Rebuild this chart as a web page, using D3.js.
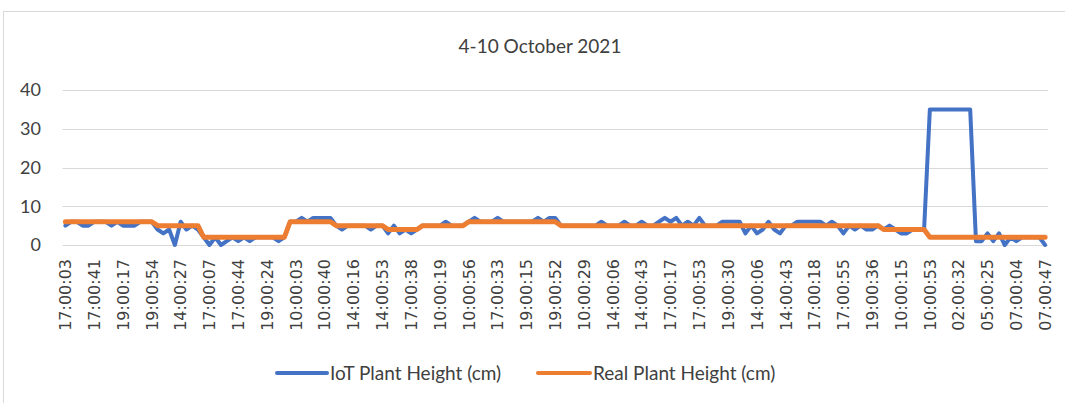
<!DOCTYPE html>
<html>
<head>
<meta charset="utf-8">
<script src="https://cdn.jsdelivr.net/npm/d3@7"></script>
<style>
  body { margin: 0; background: #fff; }
  svg { display: block; font-family: Lato, "Open Sans", sans-serif; }
</style>
</head>
<body>
<div id="container"></div>
<script>
// Chart data: one reading per category, tick label shown on every 5th category
const titleText = "4-10 October 2021";
const seriesNames = ["IoT Plant Height (cm)", "Real Plant Height (cm)"];
const tickLabels = [
  "17:00:03", "17:00:41", "19:00:17", "19:00:54", "14:00:27", "17:00:07", "17:00:44",
  "19:00:24", "10:00:03", "10:00:40", "14:00:16", "14:00:53", "17:00:38", "10:00:19",
  "10:00:56", "17:00:33", "19:00:15", "19:00:52", "10:00:29", "14:00:06", "14:00:43",
  "17:00:17", "17:00:53", "19:00:30", "14:00:06", "14:00:43", "17:00:18", "17:00:55",
  "19:00:36", "10:00:15", "10:00:53", "02:00:32", "05:00:25", "07:00:04", "07:00:47"
];
const labelEvery = 5;
const yTicks = [0, 10, 20, 30, 40];

const iotHeight = [
  5, 6, 6, 5, 5, 6, 6, 6, 5, 6, 5, 5, 5, 6, 6, 6,
  4, 3, 4, 0, 6, 4, 5, 4,
  2, 0, 2, 0, 1, 2, 1, 2, 1, 2, 2, 2, 2, 1, 2,
  6, 6, 7, 6, 7, 7, 7, 7,
  5, 4, 5, 5, 5, 5, 4, 5, 5,
  3, 5, 3, 4, 3, 4,
  5, 5, 5, 5, 6, 5, 5, 5,
  6, 7, 6, 6, 6, 7, 6, 6, 6, 6, 6, 6, 7, 6, 7, 7,
  5, 5, 5, 5, 5, 5, 5, 6, 5, 5, 5, 6, 5, 5, 6, 5, 5, 6, 7, 6, 7, 5, 6, 5, 7,
  5, 5, 5, 6, 6, 6, 6, 3, 5, 3, 4, 6, 4, 3, 5, 5, 6, 6, 6, 6, 6, 5, 6, 5, 3,
  5, 4, 5, 4, 4, 5,
  4, 5, 4, 3, 3, 4, 4, 4,
  35, 35, 35, 35, 35, 35, 35, 35,
  1, 1, 3, 1, 3, 0, 2, 1, 2, 2, 2, 2, 0
];

const realHeight = [
  6, 6, 6, 6, 6, 6, 6, 6, 6, 6, 6, 6, 6, 6, 6, 6,
  5, 5, 5, 5, 5, 5, 5, 5,
  2, 2, 2, 2, 2, 2, 2, 2, 2, 2, 2, 2, 2, 2, 2,
  6, 6, 6, 6, 6, 6, 6, 6,
  5, 5, 5, 5, 5, 5, 5, 5, 5,
  4, 4, 4, 4, 4, 4,
  5, 5, 5, 5, 5, 5, 5, 5,
  6, 6, 6, 6, 6, 6, 6, 6, 6, 6, 6, 6, 6, 6, 6, 6,
  5, 5, 5, 5, 5, 5, 5, 5, 5, 5, 5, 5, 5, 5, 5, 5, 5, 5, 5, 5, 5, 5, 5, 5, 5,
  5, 5, 5, 5, 5, 5, 5, 5, 5, 5, 5, 5, 5, 5, 5, 5, 5, 5, 5, 5, 5, 5, 5, 5, 5,
  5, 5, 5, 5, 5, 5,
  4, 4, 4, 4, 4, 4, 4, 4,
  2, 2, 2, 2, 2, 2, 2, 2, 2, 2, 2, 2, 2, 2, 2, 2, 2, 2, 2, 2, 2
];

const colors = ["#4472C4", "#ED7D31"];

const W = 1065, H = 403;
const plot = { left: 62.5, right: 1048, top: 90, bottom: 245 };

const svg = d3.select("#container").append("svg")
  .attr("width", W)
  .attr("height", H);

// chart frame
svg.append("rect")
  .attr("x", 3.5).attr("y", 11.5)
  .attr("width", W + 10).attr("height", H + 10)
  .attr("fill", "#fff")
  .attr("stroke", "#D9D9D9");

const idx = d3.range(realHeight.length);
const x = d3.scalePoint()
  .domain(idx)
  .range([plot.left, plot.right])
  .padding(0.5);

const y = d3.scaleLinear()
  .domain([0, 40])
  .range([plot.bottom, plot.top]);

// gridlines
svg.append("g")
  .selectAll("line")
  .data(yTicks)
  .enter().append("line")
    .attr("x1", plot.left).attr("x2", plot.right)
    .attr("y1", d => Math.round(y(d)) + 0.5)
    .attr("y2", d => Math.round(y(d)) + 0.5)
    .attr("stroke", "#D9D9D9")
    .attr("stroke-width", 1);

// y labels
svg.append("g")
  .selectAll("text")
  .data(yTicks)
  .enter().append("text")
    .attr("x", 41)
    .attr("y", d => y(d))
    .attr("dy", "0.36em")
    .attr("text-anchor", "end")
    .attr("font-size", 18)
    .attr("fill", "#404040")
    .text(d => d);

// x labels (every 5th category)
svg.append("g")
  .selectAll("text")
  .data(tickLabels)
  .enter().append("text")
    .attr("transform", (d, i) => `translate(${x(i * labelEvery)},259) rotate(-90)`)
    .attr("dy", "0.36em")
    .attr("text-anchor", "end")
    .attr("font-family", "'DejaVu Sans', sans-serif")
    .attr("font-size", 16)
    .attr("fill", "#404040")
    .text(d => d);

// series lines
const line = d3.line()
  .x((d, i) => x(i))
  .y(d => y(d));

[iotHeight, realHeight].forEach((vals, k) => {
  svg.append("path")
    .datum(vals)
    .attr("fill", "none")
    .attr("stroke", colors[k])
    .attr("stroke-width", k === 0 ? 4 : 5)
    .attr("stroke-linejoin", "round")
    .attr("stroke-linecap", "round")
    .attr("d", line);
});

// title
svg.append("text")
  .attr("x", 540)
  .attr("y", 46)
  .attr("dy", "0.35em")
  .attr("text-anchor", "middle")
  .attr("font-size", 19)
  .attr("fill", "#404040")
  .text(titleText);

// legend
const legendItems = [
  { x1: 277, x2: 327, tx: 330 },
  { x1: 538, x2: 590, tx: 593 }
];
const legend = svg.append("g");
legendItems.forEach((it, k) => {
  legend.append("line")
    .attr("x1", it.x1).attr("x2", it.x2)
    .attr("y1", 373).attr("y2", 373)
    .attr("stroke", colors[k])
    .attr("stroke-width", 4)
    .attr("stroke-linecap", "round");
  legend.append("text")
    .attr("x", it.tx)
    .attr("y", 373)
    .attr("dy", "0.36em")
    .attr("font-size", 19)
    .attr("fill", "#404040")
    .text(seriesNames[k]);
});
</script>
</body>
</html>
